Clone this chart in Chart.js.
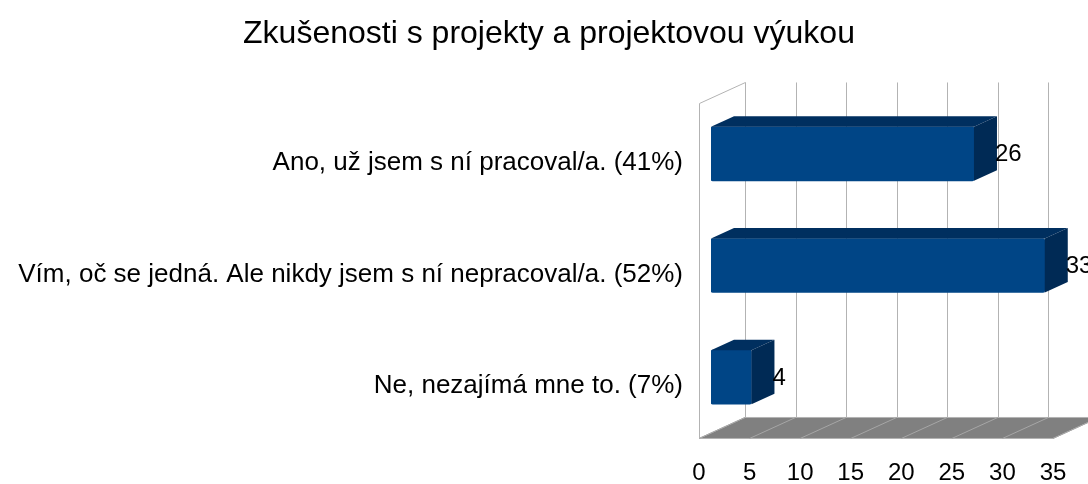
<!DOCTYPE html>
<html>
<head>
<meta charset="utf-8">
<script src="https://cdn.jsdelivr.net/npm/chart.js@4"></script>
<style>
  html, body { margin: 0; padding: 0; background: #ffffff; }
  #wrap { width: 1088px; height: 484px; }
</style>
</head>
<body>
<div id="wrap"><canvas id="chart"></canvas></div>
<script>
const FONT = '"Liberation Sans", Arial, sans-serif';

const categories = [
    "Ano, už jsem s ní pracoval/a. (41%)",
    "Vím, oč se jedná. Ale nikdy jsem s ní nepracoval/a. (52%)",
    "Ne, nezajímá mne to. (7%)"
];
const answerCounts = [26, 33, 4];
const xTicks = [0, 5, 10, 15, 20, 25, 30, 35];
const chartTitle = "Zkušenosti s projekty a projektovou výukou";

// depth offsets of the fake 3d box, relative to the bar front faces
const SLOPE = 21 / 46;
const FRONT_DX = -12;
const BACK_DX = 34;
const BAR_DX = 23;

function dy(dx) {
    return -dx * SLOPE;
}

// walls, floor and grid, drawn behind the bars
const box3d = {
    id: "box3d",
    beforeDatasetsDraw(chart) {
        const ctx = chart.ctx;
        const area = chart.chartArea;
        const xs = chart.scales.x;
        const x0 = xs.getPixelForValue(xTicks[0]);
        const xN = xs.getPixelForValue(xTicks[xTicks.length - 1]);
        ctx.save();

        // floor
        ctx.fillStyle = "#808080";
        ctx.beginPath();
        ctx.moveTo(x0 + FRONT_DX, area.bottom + dy(FRONT_DX));
        ctx.lineTo(x0 + BACK_DX, area.bottom + dy(BACK_DX));
        ctx.lineTo(xN + BACK_DX, area.bottom + dy(BACK_DX));
        ctx.lineTo(xN + FRONT_DX, area.bottom + dy(FRONT_DX));
        ctx.closePath();
        ctx.fill();
        ctx.strokeStyle = "#b3b3b3";
        ctx.lineWidth = 1;
        ctx.stroke();

        ctx.strokeStyle = "#a6a6a6";
        xTicks.forEach(v => {
            const x = xs.getPixelForValue(v);
            ctx.beginPath();
            ctx.moveTo(x + FRONT_DX, area.bottom + dy(FRONT_DX));
            ctx.lineTo(x + BACK_DX, area.bottom + dy(BACK_DX));
            ctx.stroke();
        });

        // back wall grid
        ctx.strokeStyle = "#b3b3b3";
        xTicks.forEach(v => {
            const x = Math.round(xs.getPixelForValue(v) + BACK_DX) + 0.5;
            ctx.beginPath();
            ctx.moveTo(x, area.top + dy(BACK_DX));
            ctx.lineTo(x, area.bottom + dy(BACK_DX));
            ctx.stroke();
        });

        // left wall
        const lx = Math.round(x0 + FRONT_DX) + 0.5;
        ctx.beginPath();
        ctx.moveTo(lx, area.bottom + dy(FRONT_DX));
        ctx.lineTo(lx, area.top + dy(FRONT_DX));
        ctx.lineTo(x0 + BACK_DX + 0.5, area.top + dy(BACK_DX));
        ctx.stroke();

        ctx.restore();
    },
    afterDatasetsDraw(chart) {
        const ctx = chart.ctx;
        const meta = chart.getDatasetMeta(0);
        ctx.save();
        meta.data.forEach((bar, i) => {
            const p = bar.getProps(["x", "y", "base", "height"], true);
            const top = p.y - p.height / 2;
            const bottom = p.y + p.height / 2;
            const off = dy(BAR_DX);

            // top face
            ctx.fillStyle = "#002f5f";
            ctx.beginPath();
            ctx.moveTo(p.base, top);
            ctx.lineTo(p.base + BAR_DX, top + off);
            ctx.lineTo(p.x + BAR_DX, top + off);
            ctx.lineTo(p.x, top);
            ctx.closePath();
            ctx.fill();

            // side face
            ctx.fillStyle = "#002a55";
            ctx.beginPath();
            ctx.moveTo(p.x, top);
            ctx.lineTo(p.x + BAR_DX, top + off);
            ctx.lineTo(p.x + BAR_DX, bottom + off);
            ctx.lineTo(p.x, bottom);
            ctx.closePath();
            ctx.fill();

            // value label
            ctx.fillStyle = "#000000";
            ctx.font = "24px " + FONT;
            ctx.textAlign = "left";
            ctx.textBaseline = "middle";
            ctx.fillText(String(answerCounts[i]), p.x + 21, p.y + 1);
        });
        ctx.restore();
    }
};

new Chart(document.getElementById("chart"), {
    type: "bar",
    data: {
        labels: categories,
        datasets: [{
            data: answerCounts,
            backgroundColor: "#004586",
            borderWidth: 0,
            borderRadius: 2,
            borderSkipped: false,
            barThickness: 54,
        }]
    },
    options: {
        indexAxis: "y",
        responsive: true,
        maintainAspectRatio: false,
        animation: false,
        layout: { padding: { left: 10, right: 0, top: 0, bottom: 0 } },
        plugins: {
            legend: { display: false },
            tooltip: { enabled: false },
            title: {
                display: true,
                text: chartTitle,
                color: "#000000",
                font: { family: FONT, size: 32, weight: "normal", lineHeight: 1.2 },
                padding: { top: 15, bottom: 44.6 }
            }
        },
        scales: {
            x: {
                min: 0,
                max: 35,
                afterBuildTicks(scale) {
                    scale.ticks = xTicks.map(v => ({ value: v }));
                },
                afterFit(scale) {
                    scale.height = 51;
                    scale.paddingLeft = 0;
                    scale.paddingRight = 23;
                },
                grid: { display: false, drawTicks: false },
                border: { display: false },
                ticks: {
                    color: "#000000",
                    padding: 26,
                    labelOffset: FRONT_DX,
                    font: { family: FONT, size: 24 }
                }
            },
            y: {
                afterFit(scale) {
                    scale.width = 701;
                },
                grid: { display: false, drawTicks: false },
                border: { display: false },
                ticks: {
                    color: "#000000",
                    padding: 28,
                    labelOffset: 9,
                    font: { family: FONT, size: 26 }
                }
            }
        }
    },
    plugins: [box3d]
});
</script>
</body>
</html>
